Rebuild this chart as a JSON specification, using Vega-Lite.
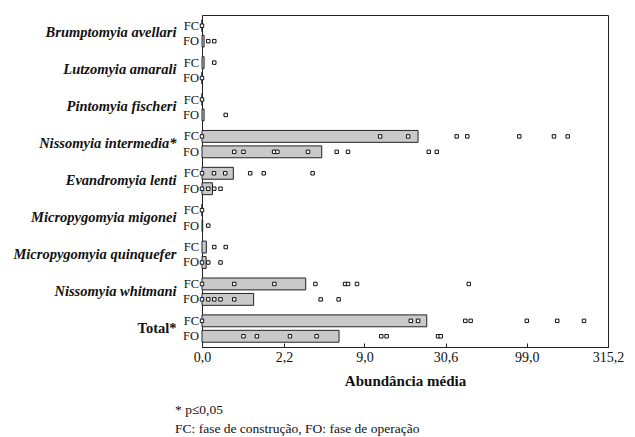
{
  "$schema": "https://vega.github.io/schema/vega-lite/v6.json",
  "autosize": {"type": "none"},
  "padding": {"left": 202, "top": 15, "right": 27, "bottom": 90},
  "width": 406,
  "height": 332,
  "background": "white",
  "config": {
    "font": "Liberation Serif",
    "view": {"stroke": "#222", "strokeWidth": 1},
    "axis": {"grid": false, "labelColor": "#111", "titleColor": "#111"}
  },
  "title": {
    "text": ["* p≤0,05", "FC: fase de construção, FO: fase de operação"],
    "orient": "bottom",
    "anchor": "start",
    "frame": "group",
    "dx": -27,
    "offset": 15,
    "fontSize": 13.5,
    "fontWeight": "normal",
    "font": "Liberation Serif",
    "lineHeight": 19,
    "color": "#111"
  },
  "datasets": {
    "bars": [
      {"sp": "Brumptomyia avellari", "ph": "FC", "v": 0},
      {"sp": "Brumptomyia avellari", "ph": "FO", "v": 0.03},
      {"sp": "Lutzomyia amarali", "ph": "FC", "v": 0.03},
      {"sp": "Lutzomyia amarali", "ph": "FO", "v": 0},
      {"sp": "Pintomyia fischeri", "ph": "FC", "v": 0},
      {"sp": "Pintomyia fischeri", "ph": "FO", "v": 0.03},
      {"sp": "Nissomyia intermedia*", "ph": "FC", "v": 20.4},
      {"sp": "Nissomyia intermedia*", "ph": "FO", "v": 4.46},
      {"sp": "Evandromyia lenti", "ph": "FC", "v": 0.56},
      {"sp": "Evandromyia lenti", "ph": "FO", "v": 0.16},
      {"sp": "Micropygomyia migonei", "ph": "FC", "v": 0},
      {"sp": "Micropygomyia migonei", "ph": "FO", "v": 0.01},
      {"sp": "Micropygomyia quinquefer", "ph": "FC", "v": 0.063},
      {"sp": "Micropygomyia quinquefer", "ph": "FO", "v": 0.06},
      {"sp": "Nissomyia whitmani", "ph": "FC", "v": 3.35},
      {"sp": "Nissomyia whitmani", "ph": "FO", "v": 1.08},
      {"sp": "Total*", "ph": "FC", "v": 23.2},
      {"sp": "Total*", "ph": "FO", "v": 5.98}
    ],
    "pts": [
      {"sp": "Brumptomyia avellari", "ph": "FC", "v": 0},
      {"sp": "Brumptomyia avellari", "ph": "FO", "v": 0.093},
      {"sp": "Brumptomyia avellari", "ph": "FO", "v": 0.19},
      {"sp": "Lutzomyia amarali", "ph": "FC", "v": 0.19},
      {"sp": "Lutzomyia amarali", "ph": "FO", "v": 0},
      {"sp": "Pintomyia fischeri", "ph": "FC", "v": 0},
      {"sp": "Pintomyia fischeri", "ph": "FO", "v": 0.4},
      {"sp": "Nissomyia intermedia*", "ph": "FC", "v": 0},
      {"sp": "Nissomyia intermedia*", "ph": "FC", "v": 11.5},
      {"sp": "Nissomyia intermedia*", "ph": "FC", "v": 17.6},
      {"sp": "Nissomyia intermedia*", "ph": "FC", "v": 36.0},
      {"sp": "Nissomyia intermedia*", "ph": "FC", "v": 42.0},
      {"sp": "Nissomyia intermedia*", "ph": "FC", "v": 88.9},
      {"sp": "Nissomyia intermedia*", "ph": "FC", "v": 146},
      {"sp": "Nissomyia intermedia*", "ph": "FC", "v": 177.6},
      {"sp": "Nissomyia intermedia*", "ph": "FO", "v": 0.58},
      {"sp": "Nissomyia intermedia*", "ph": "FO", "v": 0.8},
      {"sp": "Nissomyia intermedia*", "ph": "FO", "v": 1.78},
      {"sp": "Nissomyia intermedia*", "ph": "FO", "v": 1.91},
      {"sp": "Nissomyia intermedia*", "ph": "FO", "v": 3.5},
      {"sp": "Nissomyia intermedia*", "ph": "FO", "v": 5.75},
      {"sp": "Nissomyia intermedia*", "ph": "FO", "v": 6.93},
      {"sp": "Nissomyia intermedia*", "ph": "FO", "v": 23.9},
      {"sp": "Nissomyia intermedia*", "ph": "FO", "v": 26.9},
      {"sp": "Evandromyia lenti", "ph": "FC", "v": 0},
      {"sp": "Evandromyia lenti", "ph": "FC", "v": 0.185},
      {"sp": "Evandromyia lenti", "ph": "FC", "v": 0.39},
      {"sp": "Evandromyia lenti", "ph": "FC", "v": 0.98},
      {"sp": "Evandromyia lenti", "ph": "FC", "v": 1.4},
      {"sp": "Evandromyia lenti", "ph": "FC", "v": 3.8},
      {"sp": "Evandromyia lenti", "ph": "FO", "v": 0},
      {"sp": "Evandromyia lenti", "ph": "FO", "v": 0.093},
      {"sp": "Evandromyia lenti", "ph": "FO", "v": 0.19},
      {"sp": "Evandromyia lenti", "ph": "FO", "v": 0.3},
      {"sp": "Micropygomyia migonei", "ph": "FC", "v": 0},
      {"sp": "Micropygomyia migonei", "ph": "FO", "v": 0.093},
      {"sp": "Micropygomyia quinquefer", "ph": "FC", "v": 0.19},
      {"sp": "Micropygomyia quinquefer", "ph": "FC", "v": 0.4},
      {"sp": "Micropygomyia quinquefer", "ph": "FO", "v": 0},
      {"sp": "Micropygomyia quinquefer", "ph": "FO", "v": 0.093},
      {"sp": "Micropygomyia quinquefer", "ph": "FO", "v": 0.3},
      {"sp": "Nissomyia whitmani", "ph": "FC", "v": 0},
      {"sp": "Nissomyia whitmani", "ph": "FC", "v": 0.58},
      {"sp": "Nissomyia whitmani", "ph": "FC", "v": 1.79},
      {"sp": "Nissomyia whitmani", "ph": "FC", "v": 3.99},
      {"sp": "Nissomyia whitmani", "ph": "FC", "v": 6.6},
      {"sp": "Nissomyia whitmani", "ph": "FC", "v": 6.93},
      {"sp": "Nissomyia whitmani", "ph": "FC", "v": 8.0},
      {"sp": "Nissomyia whitmani", "ph": "FC", "v": 42.9},
      {"sp": "Nissomyia whitmani", "ph": "FO", "v": 0},
      {"sp": "Nissomyia whitmani", "ph": "FO", "v": 0.093},
      {"sp": "Nissomyia whitmani", "ph": "FO", "v": 0.19},
      {"sp": "Nissomyia whitmani", "ph": "FO", "v": 0.3},
      {"sp": "Nissomyia whitmani", "ph": "FO", "v": 0.58},
      {"sp": "Nissomyia whitmani", "ph": "FO", "v": 4.38},
      {"sp": "Nissomyia whitmani", "ph": "FO", "v": 5.94},
      {"sp": "Total*", "ph": "FC", "v": 0},
      {"sp": "Total*", "ph": "FC", "v": 18.3},
      {"sp": "Total*", "ph": "FC", "v": 20.4},
      {"sp": "Total*", "ph": "FC", "v": 40.8},
      {"sp": "Total*", "ph": "FC", "v": 44.1},
      {"sp": "Total*", "ph": "FC", "v": 99},
      {"sp": "Total*", "ph": "FC", "v": 153},
      {"sp": "Total*", "ph": "FC", "v": 224},
      {"sp": "Total*", "ph": "FO", "v": 0.8},
      {"sp": "Total*", "ph": "FO", "v": 1.18},
      {"sp": "Total*", "ph": "FO", "v": 2.48},
      {"sp": "Total*", "ph": "FO", "v": 4.08},
      {"sp": "Total*", "ph": "FO", "v": 11.7},
      {"sp": "Total*", "ph": "FO", "v": 12.7},
      {"sp": "Total*", "ph": "FO", "v": 27.4},
      {"sp": "Total*", "ph": "FO", "v": 28.5}
    ]
  },
  "encoding": {
    "y": {
      "field": "sp",
      "type": "nominal",
      "sort": ["Brumptomyia avellari", "Lutzomyia amarali", "Pintomyia fischeri", "Nissomyia intermedia*", "Evandromyia lenti", "Micropygomyia migonei", "Micropygomyia quinquefer", "Nissomyia whitmani", "Total*"],
      "scale": {"paddingInner": 0, "paddingOuter": 0},
      "axis": {
        "title": null,
        "ticks": false,
        "domain": false,
        "labelPadding": 26,
        "labelFontSize": 14.5,
        "labelFontWeight": "bold",
        "labelFontStyle": {"condition": {"test": "datum.value == 'Total*'", "value": "normal"}, "value": "italic"},
        "labelLimit": 300
      }
    },
    "yOffset": {
      "field": "ph",
      "type": "nominal",
      "sort": ["FC", "FO"],
      "scale": {"paddingInner": 0.23, "paddingOuter": 0.31}
    },
    "x": {
      "field": "v",
      "type": "quantitative",
      "scale": {"type": "symlog", "constant": 1, "domain": [0, 315.2], "nice": false},
      "axis": {
        "title": "Abundância média",
        "titleFontSize": 15,
        "titleFontWeight": "bold",
        "titlePadding": 9,
        "values": [0, 2.2, 9.0, 30.6, 99.0, 315.2],
        "labelExpr": "replace(format(datum.value, '.1f'), '.', ',')",
        "labelFontSize": 14,
        "labelFlush": false,
        "tickSize": -4,
        "tickColor": "#222",
        "domainColor": "#222",
        "labelPadding": 7
      }
    }
  },
  "layer": [
    {
      "data": {"name": "bars"},
      "mark": {"type": "bar", "fill": "#c9c9c9", "stroke": "#222", "strokeWidth": 1}
    },
    {
      "data": {"name": "pts"},
      "mark": {"type": "point", "shape": "square", "size": 12, "filled": false, "fill": "white", "fillOpacity": 1, "stroke": "#111", "strokeWidth": 1, "opacity": 1}
    },
    {
      "data": {"name": "bars"},
      "mark": {"type": "text", "align": "right", "baseline": "middle", "dx": -3, "fontSize": 12.5, "color": "#111"},
      "encoding": {
        "x": {"datum": 0, "type": "quantitative"},
        "text": {"field": "ph"}
      }
    }
  ]
}
